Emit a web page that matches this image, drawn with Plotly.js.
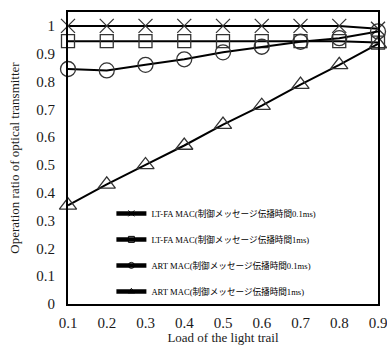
<!DOCTYPE html>
<html><head><meta charset="utf-8">
<script src="https://cdn.plot.ly/plotly-3.0.1.min.js"></script>
<style>html,body{margin:0;padding:0;background:#fff}#chart{width:387px;height:345px}</style>
</head><body><div id="chart"></div>
<script>
var loads = [0.1, 0.2, 0.3, 0.4, 0.5, 0.6, 0.7, 0.8, 0.9];
var ltfa01 = [1.0, 1.0, 1.0, 1.0, 1.0, 1.0, 1.0, 1.0, 0.99];
var ltfa1 = [0.945, 0.945, 0.945, 0.945, 0.945, 0.945, 0.945, 0.945, 0.94];
var art01 = [0.845, 0.84, 0.86, 0.88, 0.905, 0.925, 0.943, 0.956, 0.98];
var art1 = [0.355, 0.43, 0.50, 0.57, 0.645, 0.713, 0.789, 0.86, 0.935];
var names = [
  'LT-FA MAC(制御メッセージ伝播時間0.1ms)',
  'LT-FA MAC(制御メッセージ伝播時間1ms)',
  'ART MAC(制御メッセージ伝播時間0.1ms)',
  'ART MAC(制御メッセージ伝播時間1ms)'
];
var xTickText = ['0.1', '0.2', '0.3', '0.4', '0.5', '0.6', '0.7', '0.8', '0.9'];
var yTicks = [0, 0.1, 0.2, 0.3, 0.4, 0.5, 0.6, 0.7, 0.8, 0.9, 1];
var yTickText = ['0', '0.1', '0.2', '0.3', '0.4', '0.5', '0.6', '0.7', '0.8', '0.9', '1'];

var series = [ltfa01, ltfa1, art01, art1];
var symbols = ['x-thin-open', 'square-open', 'circle-open', 'triangle-up-open'];
var sizes = [14, 13, 15, 15];
var traces = [];
series.forEach(function (s, i) {
  traces.push({
    x: loads, y: s, type: 'scatter', mode: 'lines+markers', name: names[i],
    showlegend: false, cliponaxis: false,
    line: {color: '#000', width: 2},
    marker: {symbol: symbols[i], size: sizes[i], color: '#333', line: {color: '#333', width: 1.3}}
  });
});
series.forEach(function (s, i) {
  traces.push({
    x: [null], y: [null], type: 'scatter', mode: 'lines+markers', name: names[i],
    legendgroup: 'g' + i,
    line: {color: '#000', width: 4.5},
    marker: {symbol: symbols[i], size: 6, color: '#000', line: {color: '#000', width: 1}}
  });
});

var serif = 'Liberation Serif, DejaVu Serif, serif';
var layout = {
  width: 387, height: 345,
  margin: {l: 68, r: 9, t: 12, b: 41},
  paper_bgcolor: '#fff', plot_bgcolor: '#fff',
  font: {family: serif, color: '#1a1a1a', size: 14},
  xaxis: {
    range: [0.1, 0.9], tickvals: loads, ticktext: xTickText, ticklabeloverflow: 'allow',
    showgrid: false, zeroline: false, showline: true, mirror: true, linecolor: '#000', linewidth: 2,
    ticks: '', ticklen: 0, ticklabelstandoff: 4, tickfont: {family: serif, size: 15, color: '#1a1a1a'},
    title: {text: 'Load of the light trail', font: {family: serif, size: 13, color: '#1a1a1a'}, standoff: 4}
  },
  yaxis: {
    range: [0, 1.05], tickvals: yTicks, ticktext: yTickText,
    showgrid: false, zeroline: false, showline: true, mirror: true, linecolor: '#000', linewidth: 2,
    ticks: '', ticklen: 0, ticklabelstandoff: 8, tickfont: {family: serif, size: 15, color: '#1a1a1a'},
    title: {text: 'Operation ratio of optical transmitter', font: {family: serif, size: 13, color: '#1a1a1a'}, standoff: 14}
  },
  legend: {
    x: 0.14, y: 0.36, xanchor: 'left', yanchor: 'top',
    bgcolor: 'rgba(0,0,0,0)', borderwidth: 0,
    traceorder: 'grouped', tracegroupgap: 7,
    font: {family: serif + ', Noto Sans CJK JP', size: 8.6, color: '#000'}
  }
};
Plotly.newPlot('chart', traces, layout, {displayModeBar: false, staticPlot: true});
</script>
</body></html>
